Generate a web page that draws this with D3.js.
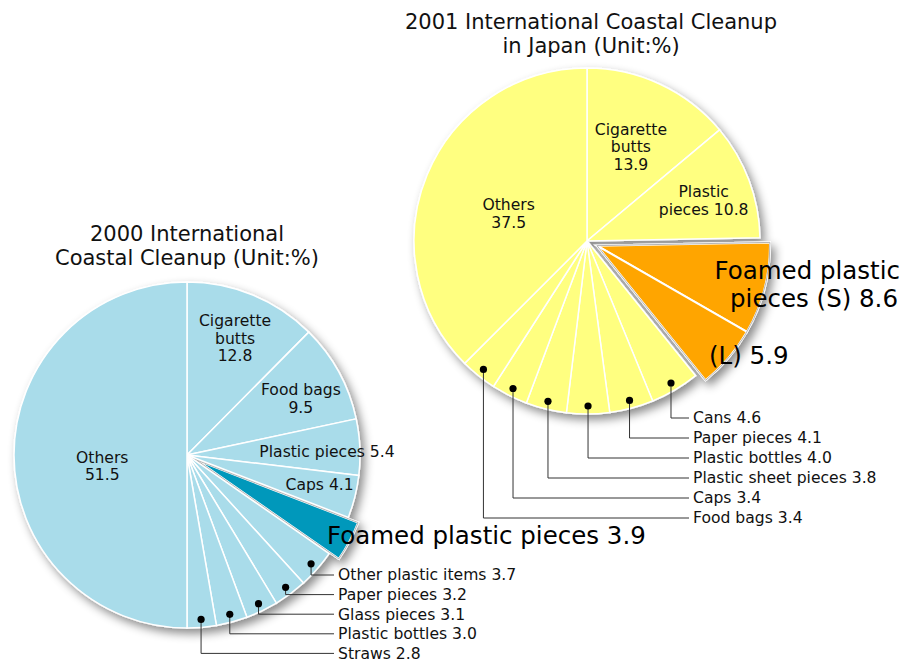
<!DOCTYPE html>
<html>
<head>
<meta charset="utf-8">
<script src="https://cdn.jsdelivr.net/npm/d3@7"></script>
<style>
  body { margin: 0; background: #fff; }
  svg { font-family: "DejaVu Sans", sans-serif; }
</style>
</head>
<body>
<svg width="903" height="662"></svg>
<script>
// 2000 International Coastal Cleanup
var leftLabels = ["Cigarette butts", "Food bags", "Plastic pieces", "Caps", "Foamed plastic pieces",
  "Other plastic items", "Paper pieces", "Glass pieces", "Plastic bottles", "Straws", "Others"];
var leftValues = [12.8, 9.5, 5.4, 4.1, 3.9, 3.7, 3.2, 3.1, 3.0, 2.8, 51.5];

// 2001 International Coastal Cleanup in Japan
var rightLabels = ["Cigarette butts", "Plastic pieces", "Foamed plastic pieces (S)", "(L)", "Cans",
  "Paper pieces", "Plastic bottles", "Plastic sheet pieces", "Caps", "Food bags", "Others"];
var rightValues = [13.9, 10.8, 8.6, 5.9, 4.6, 4.1, 4.0, 3.8, 3.4, 3.4, 37.5];

var svg = d3.select("svg");
var R = 173;
var fmt = d3.format(".1f");
var small = "15.6px";

// drop shadow
var defs = svg.append("defs");
defs.append("filter").attr("id", "shadow")
    .attr("x", "-20%").attr("y", "-20%").attr("width", "140%").attr("height", "140%")
  .append("feDropShadow")
    .attr("dx", 4).attr("dy", 5).attr("stdDeviation", 5)
    .attr("flood-color", "#000").attr("flood-opacity", 0.45);

var pie = d3.pie().sort(null).value(function(d) { return d; });
var arc = d3.arc().innerRadius(0).outerRadius(R);

function polar(a, r) { return [Math.sin(a) * r, -Math.cos(a) * r]; }

function drawPie(o) {
  var g = svg.append("g").attr("transform", "translate(" + o.cx + "," + o.cy + ")");
  var arcs = pie(o.values);
  var exploded = arcs.filter(function(d, i) { return o.explode.indexOf(i) >= 0; });
  var base = arcs.filter(function(d, i) { return o.explode.indexOf(i) < 0; });

  var pg = g.append("g").attr("filter", "url(#shadow)");
  pg.selectAll("path.base").data(base).enter().append("path")
      .attr("class", "base")
      .attr("d", arc)
      .attr("fill", o.color)
      .attr("stroke", "#fff").attr("stroke-width", 1.5);

  // exploded group
  var a0 = d3.min(exploded, function(d) { return d.startAngle; }),
      a1 = d3.max(exploded, function(d) { return d.endAngle; });
  var off = polar((a0 + a1) / 2, o.offset);
  var eg = pg.append("g").attr("transform", "translate(" + off[0] + "," + off[1] + ")");
  eg.selectAll("path").data(exploded).enter().append("path")
      .attr("d", arc)
      .attr("fill", o.hot)
      .attr("stroke", "#fff").attr("stroke-width", 2);
  eg.append("path")
      .attr("d", arc({startAngle: a0, endAngle: a1}))
      .attr("fill", "none")
      .attr("stroke", "#b5b5b5").attr("stroke-width", 1);

  // inner labels, one text per line
  o.inner.forEach(function(l) {
    var d = arcs[l.i];
    var p = polar((d.startAngle + d.endAngle) / 2, R * l.r);
    var n = l.lines.length;
    l.lines.forEach(function(s, k) {
      g.append("text")
          .attr("x", p[0] + (l.dx || 0))
          .attr("y", p[1] + (l.dy || 0) + (k - (n - 1) / 2) * 17.5)
          .attr("dy", "0.35em")
          .attr("text-anchor", "middle")
          .attr("font-size", small).attr("fill", "#111")
          .text(s.replace("{v}", fmt(o.values[l.i])));
    });
  });

  // callouts
  var cg = svg.append("g");
  o.callouts.forEach(function(i, k) {
    var d = arcs[i];
    var p = polar((d.startAngle + d.endAngle) / 2, 165);
    var x = o.cx + p[0], y = o.cy + p[1];
    var ly = o.calloutY + k * o.calloutStep;
    cg.append("path")
        .attr("d", "M" + x + "," + y + "V" + ly + "H" + (o.calloutX - 4))
        .attr("fill", "none").attr("stroke", "#333").attr("stroke-width", 1);
    cg.append("circle").attr("cx", x).attr("cy", y).attr("r", 3.6).attr("fill", "#000");
    cg.append("text")
        .attr("x", o.calloutX).attr("y", ly).attr("dy", "0.35em")
        .attr("font-size", small).attr("fill", "#111")
        .text(o.labels[i] + " " + fmt(o.values[i]));
  });

  // title
  o.title.forEach(function(s, k) {
    svg.append("text").attr("text-anchor", "middle")
        .attr("font-size", "21px").attr("fill", "#111")
        .attr("x", o.tx).attr("y", o.ty + k * 24).attr("dy", "0.35em").text(s);
  });
  return arcs;
}

drawPie({
  cx: 187, cy: 455, values: leftValues, labels: leftLabels,
  color: "#a9dcea", hot: "#0098bb", explode: [4], offset: 11,
  inner: [
    {i: 0, r: 0.73, lines: ["Cigarette", "butts", "{v}"]},
    {i: 1, r: 0.75, lines: ["Food bags", "{v}"], dy: 6},
    {i: 2, r: 0.81, lines: ["Plastic pieces {v}"], dy: 3},
    {i: 3, r: 0.79, lines: ["Caps {v}"], dy: -3},
    {i: 10, r: 0.49, lines: ["Others", "{v}"], dy: 11}
  ],
  callouts: [5, 6, 7, 8, 9], calloutX: 338, calloutY: 575, calloutStep: 19.6,
  title: ["2000 International", "Coastal Cleanup (Unit:%)"], tx: 187, ty: 234
});

drawPie({
  cx: 587, cy: 241, values: rightValues, labels: rightLabels,
  color: "#ffff80", hot: "#ffa500", explode: [2, 3], offset: 11,
  inner: [
    {i: 0, r: 0.6, lines: ["Cigarette", "butts", "{v}"]},
    {i: 1, r: 0.72, lines: ["Plastic", "pieces {v}"], dy: 3},
    {i: 10, r: 0.49, lines: ["Others", "{v}"], dy: 5}
  ],
  callouts: [4, 5, 6, 7, 8, 9], calloutX: 693, calloutY: 418, calloutStep: 20,
  title: ["2001 International Coastal Cleanup", "in Japan (Unit:%)"], tx: 591, ty: 22
});

// big annotations for foamed plastic
var big = svg.append("g").attr("font-size", "24.5px").attr("fill", "#000");
big.append("text").attr("x", 327).attr("y", 535).attr("dy", "0.35em")
    .text(leftLabels[4] + " " + fmt(leftValues[4]));
big.append("text").attr("x", 900).attr("y", 270).attr("dy", "0.35em")
    .attr("text-anchor", "end").text("Foamed plastic");
big.append("text").attr("x", 898).attr("y", 298).attr("dy", "0.35em")
    .attr("text-anchor", "end").text("pieces (S) " + fmt(rightValues[2]));
big.append("text").attr("x", 709).attr("y", 355).attr("dy", "0.35em")
    .text(rightLabels[3] + " " + fmt(rightValues[3]));
</script>
</body>
</html>
